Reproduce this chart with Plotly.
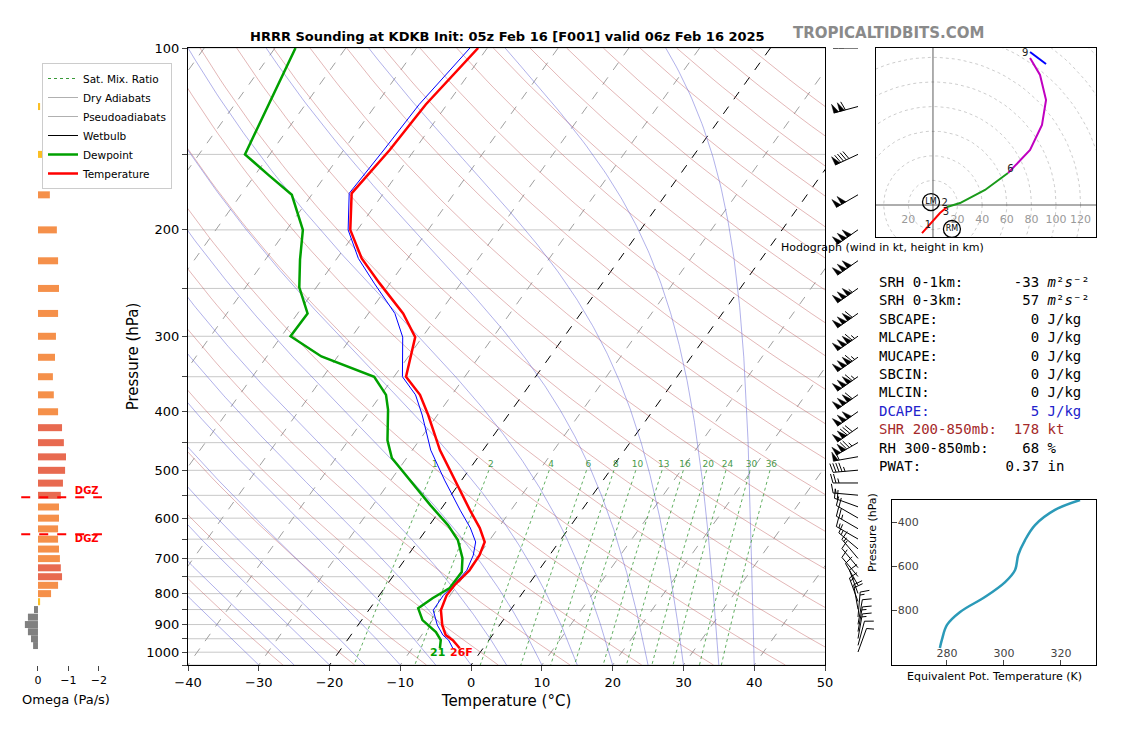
import numpy as np
import plotly.graph_objects as go

W, H = 1134, 748
OFF = 8  # page body margin
SKEW = 61.0  # deg C per decade of pressure

# ---- sounding data ----
t_p = [100, 124, 147.5, 174, 200, 223, 245, 275, 301, 350, 375, 405, 463, 519, 582, 623, 657, 691, 732, 774, 805, 852, 902, 937, 955, 985]
t_c = [-61.3, -63.0, -63.5, -64.5, -61.0, -56.5, -51.5, -45.1, -41.0, -38.3, -34.5, -31.3, -26.1, -21.0, -15.8, -12.6, -10.5, -9.9, -9.8, -10.4, -10.5, -9.8, -8.1, -6.6, -5.1, -3.3]
td_p = [100, 150, 162, 175, 200, 224, 249, 275, 300, 324, 350, 375, 397, 446, 477, 519, 571, 616, 652, 699, 737, 783, 814, 846, 885, 926, 955, 985]
td_c = [-87.1, -83.5, -78.2, -72.8, -67.7, -65.1, -62.4, -58.6, -58.7, -52.3, -42.8, -39.3, -37.5, -34.5, -32.1, -27.3, -21.9, -17.4, -14.5, -12.0, -10.7, -10.8, -12.2, -13.2, -11.4, -8.3, -6.8, -6.1]

# omega and winds at 25 hPa levels
lev = list(range(100, 1001, 25))
omega = [0.0, -0.07, -0.26, -0.39, -0.62, -0.66, -0.69, -0.66, -0.59, -0.56, -0.49, -0.52, -0.66, -0.79, -0.85,
         -0.92, -0.89, -0.82, -0.75, -0.69, -0.69, -0.66, -0.66, -0.69, -0.72, -0.75, -0.79, -0.66, -0.43, -0.07,
         0.13, 0.33, 0.43, 0.33, 0.23, 0.16, 0.0]
wspd = [105, 110, 90, 100, 150, 150, 155, 160, 165, 165, 165, 160, 150, 130, 125, 60, 45, 25, 15, 20, 20, 25, 15,
        15, 15, 10, 10, 10, 10, 15, 20, 15, 10, 15, 15, 10, 10]
wdir = [270, 255, 245, 240, 235, 235, 235, 235, 235, 235, 235, 235, 235, 235, 240, 260, 265, 270, 275, 290, 300,
        300, 300, 310, 320, 320, 320, 330, 340, 340, 350, 5, 10, 10, 10, 15, 20]

# hodograph (kt)
hodo_u = [-8.9, -0.8, 5.7, 11.4, 22.0, 42.3, 61.0, 78.9, 88.6, 91.9, 87.0, 78.9, 78.9, 91.9]
hodo_v = [-22.8, -13.8, -6.5, -1.6, 1.6, 12.2, 26.0, 44.7, 65.0, 85.4, 105.7, 119.5, 124.4, 114.6]
hodo_seg = [(0, 4, "red"), (3, 7, "#1a9a1a"), (6, 12, "#c000c0"), (12, 14, "blue")]

# theta-e profile
the_p = [973, 936, 868, 809, 741, 673, 618, 550, 482, 414, 345, 300]
the_k = [277.5, 278.2, 280.0, 284.6, 293.3, 300.4, 303.9, 305.0, 307.4, 310.9, 317.9, 326.7]

mix_vals = [1, 2, 4, 6, 8, 10, 13, 16, 20, 24, 30, 36]

stats = [("SRH 0-1km:      -33 <i>m</i>²<i>s</i>⁻²", "black"),
         ("SRH 0-3km:       57 <i>m</i>²<i>s</i>⁻²", "black"),
         ("SBCAPE:           0 J/kg", "black"),
         ("MLCAPE:           0 J/kg", "black"),
         ("MUCAPE:           0 J/kg", "black"),
         ("SBCIN:            0 J/kg", "black"),
         ("MLCIN:            0 J/kg", "black"),
         ("DCAPE:            5 J/kg", "#2222cc"),
         ("SHR 200-850mb:  178 kt", "#a52a2a"),
         ("RH 300-850mb:    68 %", "black"),
         ("PWAT:          0.37 in", "black")]


def sk(t, p):
    return np.asarray(t) + SKEW * np.log10(1050.0 / np.asarray(p, dtype=float))


def px(x):
    return (x - OFF) / W


def py(y):
    return 1 - (y - OFF) / H


fig = go.Figure()
pp = np.geomspace(100, 1050, 80)

# horizontal grid
gx, gy = [], []
for p in range(100, 1051, 50):
    gx += [-40, 50, None]
    gy += [p, p, None]
fig.add_trace(go.Scatter(x=gx, y=gy, mode="lines", line=dict(color="#c8c8c8", width=1), showlegend=False, hoverinfo="skip"))

# isotherms
for t in range(-120, 60, 10):
    col = "black" if t in (-20, 0) else "#a0a0a0"
    fig.add_trace(go.Scatter(x=sk(np.full_like(pp, t), pp), y=pp, mode="lines",
                             line=dict(color=col, width=1, dash="dash"), showlegend=False, hoverinfo="skip"))

# dry adiabats
for th in range(-30, 220, 10):
    tt = (th + 273.15) * (pp / 1000.0) ** 0.2857 - 273.15
    fig.add_trace(go.Scatter(x=sk(tt, pp), y=pp, mode="lines", line=dict(color="rgba(190,90,90,0.55)", width=0.8),
                             showlegend=False, hoverinfo="skip"))


# moist adiabats
def moist(t0):
    Rd, Cp, Lv, eps = 287.04, 1005.7, 2.501e6, 0.622
    ps = np.linspace(1050, 100, 400)
    T = t0 + 273.15
    out = []
    for i, p in enumerate(ps):
        out.append(T - 273.15)
        if i + 1 < len(ps):
            es = 6.112 * np.exp(17.67 * (T - 273.15) / (T - 29.65))
            rs = eps * es / (p - es)
            dTdp = (Rd * T + Lv * rs) / (Cp + Lv ** 2 * rs * eps / (Rd * T ** 2)) / p
            T += dTdp * (ps[i + 1] - p)
    return ps, np.array(out)


for t0 in range(-30, 45, 5):
    ps, tt = moist(t0)
    fig.add_trace(go.Scatter(x=sk(tt, ps), y=ps, mode="lines", line=dict(color="rgba(90,90,210,0.6)", width=0.8),
                             showlegend=False, hoverinfo="skip"))

# mixing ratio lines
pm = np.geomspace(500, 1050, 30)
for w in mix_vals:
    e = w * pm / (622.0 + w)
    a = np.log(e / 6.112)
    td = 243.5 * a / (17.67 - a)
    fig.add_trace(go.Scatter(x=sk(td, pm), y=pm, mode="lines", line=dict(color="#3a9a3a", width=0.8, dash="dot"),
                             showlegend=False, hoverinfo="skip"))
    e5 = w * 490 / (622.0 + w)
    a5 = np.log(e5 / 6.112)
    fig.add_trace(go.Scatter(x=[float(sk(243.5 * a5 / (17.67 - a5), 490))], y=[490], mode="text", text=[str(w)],
                             textfont=dict(color="#4a9a4a", size=9), showlegend=False, hoverinfo="skip"))

# legend entries
fig.add_trace(go.Scatter(x=[None], y=[None], mode="lines", name="Sat. Mix. Ratio", line=dict(color="#3a9a3a", width=1, dash="dot")))
fig.add_trace(go.Scatter(x=[None], y=[None], mode="lines", name="Dry Adiabats", line=dict(color="#b0b0b0", width=1)))
fig.add_trace(go.Scatter(x=[None], y=[None], mode="lines", name="Pseudoadiabats", line=dict(color="#b0b0b0", width=1)))
fig.add_trace(go.Scatter(x=[None], y=[None], mode="lines", name="Wetbulb", line=dict(color="black", width=1)))

# wetbulb (approx. from T and Td)
tdi = np.interp(np.log(t_p), np.log(td_p), td_c)
tca = np.array(t_c)
wb = tca - 0.35 * np.exp((tca + 10) / 25.0).clip(max=1) * (tca - tdi)
fig.add_trace(go.Scatter(x=sk(wb, t_p), y=t_p, mode="lines", line=dict(color="blue", width=1), showlegend=False))
fig.add_trace(go.Scatter(x=sk(td_c, td_p), y=td_p, mode="lines", name="Dewpoint", line=dict(color="#00a000", width=2.5)))
fig.add_trace(go.Scatter(x=sk(t_c, t_p), y=t_p, mode="lines", name="Temperature", line=dict(color="red", width=2.5)))

fig.add_annotation(x=float(sk(td_c[-1], td_p[-1])) - 0.3, y=3.0, text="<b>21</b>", showarrow=False,
                   font=dict(color="#00a000", size=11), xref="x", yref="y")
fig.add_annotation(x=float(sk(t_c[-1], t_p[-1])) + 0.3, y=3.0, text="<b>26F</b>", showarrow=False,
                   font=dict(color="red", size=11), xref="x", yref="y")

# omega panel
for p, w in zip(lev, omega):
    if w > 0:
        c = "#808080"
    elif -w < 0.35:
        c = "#fbbf24"
    elif -w < 0.75:
        c = "#f5904a"
    else:
        c = "#e86a50"
    fig.add_trace(go.Scatter(x=[0, w], y=[p, p], mode="lines", line=dict(color=c, width=7), xaxis="x2", yaxis="y",
                             showlegend=False, hoverinfo="skip"))
for p in (554, 638):
    fig.add_trace(go.Scatter(x=[0.55, -2.1], y=[p, p], mode="lines", line=dict(color="red", width=2, dash="dash"),
                             xaxis="x2", yaxis="y", showlegend=False, hoverinfo="skip"))
fig.add_trace(go.Scatter(x=[-1.6, -1.6], y=[541, 652], mode="text", text=["<b>DGZ</b>", "<b>DGZ</b>"],
                         textfont=dict(color="red", size=10), xaxis="x2", yaxis="y", showlegend=False))

# wind barbs (pixel coords)
bx, by, fx, fy = [], [], [], []
for p, s, d in zip(lev, wspd, wdir):
    xa, ya = 858.0, 48 + 604 * np.log10(p / 100.0)
    ux, uy = np.sin(np.radians(d)), -np.cos(np.radians(d))
    nx, ny = -uy, ux
    L = 25.0
    tx, ty = xa + L * ux, ya + L * uy
    bx += [xa, tx, None]
    by += [ya, ty, None]
    n50, rem = divmod(int(round(s / 5.0)) * 5, 50)
    n10, rem = divmod(rem, 10)
    n5 = rem // 5
    pos = 0.0
    for _ in range(n50):
        x0, y0 = tx - pos * ux, ty - pos * uy
        x1, y1 = tx - (pos + 5) * ux, ty - (pos + 5) * uy
        fx += [x0, x0 + 9 * nx, x1, x0, None]
        fy += [y0, y0 + 9 * ny, y1, y0, None]
        pos += 6
    for _ in range(n10):
        x0, y0 = tx - pos * ux, ty - pos * uy
        bx += [x0, x0 + 9 * nx + 2.5 * ux, None]
        by += [y0, y0 + 9 * ny + 2.5 * uy, None]
        pos += 3
    for _ in range(n5):
        if pos == 0:
            pos = 3
        x0, y0 = tx - pos * ux, ty - pos * uy
        bx += [x0, x0 + 4.5 * nx + 1.2 * ux, None]
        by += [y0, y0 + 4.5 * ny + 1.2 * uy, None]
fig.add_trace(go.Scatter(x=bx, y=by, mode="lines", line=dict(color="black", width=1), xaxis="x4", yaxis="y4",
                         showlegend=False, hoverinfo="skip"))
fig.add_trace(go.Scatter(x=fx, y=fy, mode="lines", fill="toself", fillcolor="black", line=dict(color="black", width=0.5),
                         xaxis="x4", yaxis="y4", showlegend=False, hoverinfo="skip"))

# hodograph
th = np.linspace(0, 2 * np.pi, 120)
cx, cy = [], []
for r in range(20, 181, 20):
    cx += list(r * np.cos(th)) + [None]
    cy += list(r * np.sin(th)) + [None]
fig.add_trace(go.Scatter(x=cx, y=cy, mode="lines", line=dict(color="#c0c0c0", width=0.8, dash="dot"),
                         xaxis="x3", yaxis="y3", showlegend=False, hoverinfo="skip"))
fig.add_trace(go.Scatter(x=[-60, 140, None, 0, 0], y=[0, 0, None, -40, 140], mode="lines",
                         line=dict(color="#333", width=0.8), xaxis="x3", yaxis="y3", showlegend=False, hoverinfo="skip"))
for a, b, c in hodo_seg:
    fig.add_trace(go.Scatter(x=hodo_u[a:b], y=hodo_v[a:b], mode="lines", line=dict(color=c, width=2),
                             xaxis="x3", yaxis="y3", showlegend=False, hoverinfo="skip"))
fig.add_trace(go.Scatter(x=[-20, 20, 40, 60, 80, 100, 120], y=[-12] * 7, mode="text",
                         text=["20", "20", "40", "60", "80", "100", "120"], textfont=dict(color="#999", size=11),
                         xaxis="x3", yaxis="y3", showlegend=False))
fig.add_trace(go.Scatter(x=[-4, 9.5, 10.5, 63, 75], y=[-17, 1.5, -6, 29, 123], mode="text",
                         text=["1", "2", "3", "6", "9"], textfont=dict(color="#222", size=10),
                         xaxis="x3", yaxis="y3", showlegend=False))
fig.add_trace(go.Scatter(x=[-1.6, 15.4], y=[2.4, -19.5], mode="markers+text", text=["LM", "RM"],
                         marker=dict(size=17, color="rgba(0,0,0,0)", line=dict(color="black", width=1.3)),
                         textfont=dict(size=8), xaxis="x3", yaxis="y3", showlegend=False))

# theta-e
fig.add_trace(go.Scatter(x=the_k, y=the_p, mode="lines", line=dict(color="#2b9ab8", width=2.5, shape="spline"),
                         xaxis="x5", yaxis="y5", showlegend=False))

for i, (txt, c) in enumerate(stats):
    fig.add_annotation(x=px(877), y=py(282 + i * 18.4), xref="paper", yref="paper", text=txt, showarrow=False,
                       xanchor="left", yanchor="middle", font=dict(family="DejaVu Sans Mono", size=14, color=c))

fig.add_annotation(x=px(507), y=py(27), xref="paper", yref="paper", showarrow=False,
                   text="<b>HRRR Sounding at KDKB Init: 05z Feb 16 [F001] valid 06z Feb 16 2025</b>",
                   font=dict(size=13, color="black"))
fig.add_annotation(x=px(987), y=py(22), xref="paper", yref="paper", showarrow=False,
                   text="<b>TROPICALTIDBITS.COM</b>", font=dict(size=15, color="#8a8a8a"))
fig.add_annotation(x=px(986), y=py(239), xref="paper", yref="paper", showarrow=False,
                   text="Hodograph (wind in kt, height in km)", font=dict(size=11, color="black"))
fig.add_annotation(x=px(881), y=py(574), xref="paper", yref="paper", showarrow=False, textangle=-90,
                   text="Pressure (hPa)", font=dict(size=11, color="black"))
fig.add_annotation(x=px(994), y=py(668), xref="paper", yref="paper", showarrow=False, xanchor="center",
                   yanchor="top", text="Equivalent Pot. Temperature (K)", font=dict(size=11, color="black"))

ax = dict(showline=True, linecolor="black", mirror=True, ticks="outside", showgrid=False, zeroline=False,
          tickfont=dict(size=13, color="black"), automargin=False)
nm = dict(automargin=False)
fig.update_layout(
    width=W, height=H, margin=dict(l=0, r=0, t=0, b=0, autoexpand=False), plot_bgcolor="white", paper_bgcolor="white",
    font=dict(family="DejaVu Sans", color="black"),
    xaxis=dict(ax, domain=[px(188), px(825)], range=[-40, 50], dtick=10, anchor="y",
               title=dict(text="Temperature (°C)", font=dict(size=15), standoff=6)),
    yaxis=dict(ax, domain=[py(665), py(48)], type="log", range=[np.log10(1050), 2], anchor="x",
               tickvals=list(range(100, 1051, 50)),
               ticktext=[str(v) if v % 100 == 0 else "" for v in range(100, 1051, 50)],
               title=dict(text="Pressure (hPa)", font=dict(size=15), standoff=4)),
    xaxis2=dict(nm, domain=[px(20), px(112)], range=[0.59, -2.43], anchor="y", showline=False, showgrid=False,
                zeroline=False, ticks="outside", tickvals=[0, -1, -2], ticktext=["0", "−1", "−2"],
                tickfont=dict(size=11), title=dict(text="Omega (Pa/s)", font=dict(size=13), standoff=8)),
    xaxis3=dict(nm, domain=[px(876), px(1096)], range=[-46.3, 132.5], anchor="y3", showline=True, linecolor="black",
                mirror=True, showticklabels=False, showgrid=False, zeroline=False),
    yaxis3=dict(nm, domain=[py(237), py(48)], range=[-26, 127.6], anchor="x3", showline=True, linecolor="black",
                mirror=True, showticklabels=False, showgrid=False, zeroline=False),
    xaxis4=dict(nm, domain=[px(826), px(874)], range=[826, 874], anchor="y4", visible=False),
    yaxis4=dict(nm, domain=[py(665), py(48)], range=[665, 48], anchor="x4", visible=False),
    xaxis5=dict(ax, domain=[px(892), px(1096)], range=[260.7, 332.3], anchor="y5", tickvals=[280, 300, 320],
                ticks="inside", ticklabelposition="inside", ticklen=5, tickfont=dict(size=11)),
    yaxis5=dict(ax, domain=[py(665), py(500)], range=[1050, 300], anchor="x5", tickvals=[400, 600, 800, 1000],
                ticktext=["400", "600", "800", ""], ticks="inside", ticklabelposition="inside", ticklen=5,
                tickfont=dict(size=11)),
    legend=dict(x=px(42), y=py(63), xanchor="left", yanchor="top", bgcolor="white", bordercolor="#ccc",
                borderwidth=1, font=dict(size=10.5), tracegroupgap=0),
    showlegend=True,
)

fig.write_html("out.html")
